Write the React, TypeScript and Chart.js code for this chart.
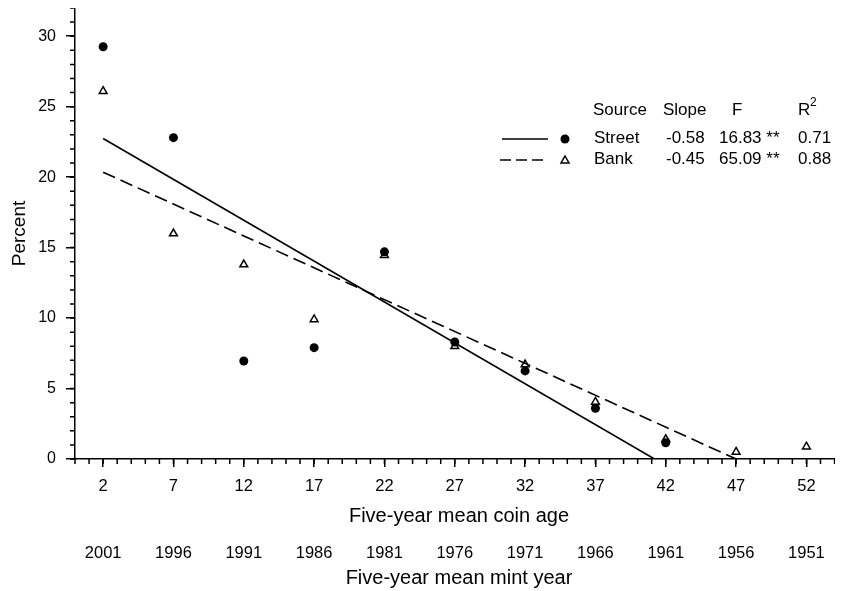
import React, { useEffect, useRef } from "react";
import { Chart, registerables } from "chart.js";

Chart.register(...registerables);

// ---- data ----
const ageTicks = [2, 7, 12, 17, 22, 27, 32, 37, 42, 47, 52];
const mintYears = ["2001", "1996", "1991", "1986", "1981", "1976", "1971", "1966", "1961", "1956", "1951"];
const percentTicks = [0, 5, 10, 15, 20, 25, 30];

const streetAge = [2, 7, 12, 17, 22, 27, 32, 37, 42];
const streetPct = [29.25, 22.8, 6.95, 7.9, 14.7, 8.3, 6.25, 3.6, 1.15];

const bankAge = [2, 7, 12, 17, 22, 27, 32, 37, 42, 47, 52];
const bankPct = [26.1, 16.0, 13.8, 9.9, 14.45, 8.0, 6.7, 4.05, 1.4, 0.5, 0.87];

const streetFitAge = [2, 41.2];
const streetFitPct = [22.74, 0];
const bankFitAge = [2, 47];
const bankFitPct = [20.35, 0];

const legendSources = ["Street", "Bank"];
const legendSlopes = ["-0.58", "-0.45"];
const legendF = ["16.83 **", "65.09 **"];
const legendR2 = ["0.71", "0.88"];

const X_MIN = 0;
const X_MAX = 54.6;
const Y_MIN = 0;
const Y_MAX = 32;

const FONT = "'Liberation Sans', Arial, Helvetica, sans-serif";

const toXY = (xs: number[], ys: number[]) => xs.map((x, i) => ({ x, y: ys[i] }));

const minorTicksPlugin = {
  id: "minorTicks",
  afterDraw(chart: any) {
    const { ctx, chartArea } = chart;
    const xs = chart.scales.x;
    const ys = chart.scales.y;
    ctx.save();
    ctx.strokeStyle = "#000";
    ctx.lineWidth = 1.5;
    ctx.beginPath();
    for (let v = Math.ceil(X_MIN); v <= X_MAX; v++) {
      const px = xs.getPixelForValue(v);
      ctx.moveTo(px, chartArea.bottom);
      ctx.lineTo(px, chartArea.bottom + 5);
    }
    for (let v = Y_MIN; v <= Y_MAX; v++) {
      const py = ys.getPixelForValue(v);
      ctx.moveTo(chartArea.left - 5, py);
      ctx.lineTo(chartArea.left, py);
    }
    ctx.stroke();
    ctx.restore();
  },
};

const legendPlugin = {
  id: "tableLegend",
  afterDraw(chart: any) {
    const { ctx } = chart;
    ctx.save();
    ctx.fillStyle = "#000";
    ctx.strokeStyle = "#000";
    ctx.font = `17px ${FONT}`;
    ctx.textBaseline = "middle";
    ctx.textAlign = "left";
    const hy = 102;
    ctx.fillText("Source", 585, hy);
    ctx.fillText("Slope", 655, hy);
    ctx.fillText("F", 724, hy);
    ctx.fillText("R", 790, hy);
    ctx.font = `12px ${FONT}`;
    ctx.fillText("2", 802, hy - 7);
    ctx.font = `17px ${FONT}`;
    const rows = [130, 151];
    rows.forEach((ry, i) => {
      ctx.fillText(legendSources[i], 586, ry);
      ctx.fillText(legendSlopes[i], 658, ry);
      ctx.fillText(legendF[i], 711, ry);
      ctx.fillText(legendR2[i], 790, ry);
    });
    ctx.lineWidth = 1.5;
    ctx.beginPath();
    ctx.moveTo(494, rows[0] + 1);
    ctx.lineTo(540, rows[0] + 1);
    ctx.stroke();
    ctx.setLineDash([11, 5]);
    ctx.beginPath();
    ctx.moveTo(492, rows[1] + 1);
    ctx.lineTo(538, rows[1] + 1);
    ctx.stroke();
    ctx.setLineDash([]);
    ctx.beginPath();
    ctx.arc(557, rows[0] + 1, 4.5, 0, Math.PI * 2);
    ctx.fill();
    ctx.beginPath();
    const tx = 557, ty = rows[1] + 1;
    ctx.moveTo(tx, ty - 4);
    ctx.lineTo(tx + 4, ty + 3);
    ctx.lineTo(tx - 4, ty + 3);
    ctx.closePath();
    ctx.stroke();
    ctx.restore();
  },
};

export default function App() {
  const ref = useRef<HTMLCanvasElement | null>(null);

  useEffect(() => {
    if (!ref.current) return;
    const chart = new Chart(ref.current, {
      type: "scatter",
      data: {
        datasets: [
          {
            type: "line",
            label: "Street fit",
            data: toXY(streetFitAge, streetFitPct),
            borderColor: "#000",
            borderWidth: 1.6,
            pointRadius: 0,
            fill: false,
            tension: 0,
          } as any,
          {
            type: "line",
            label: "Bank fit",
            data: toXY(bankFitAge, bankFitPct),
            borderColor: "#000",
            borderWidth: 1.6,
            borderDash: [13, 6],
            pointRadius: 0,
            fill: false,
            tension: 0,
          } as any,
          {
            label: "Street",
            data: toXY(streetAge, streetPct),
            pointStyle: "circle",
            pointRadius: 4.5,
            backgroundColor: "#000",
            borderColor: "#000",
            borderWidth: 0,
          },
          {
            label: "Bank",
            data: toXY(bankAge, bankPct),
            pointStyle: "triangle",
            pointRadius: 4.5,
            backgroundColor: "rgba(0,0,0,0)",
            borderColor: "#000",
            borderWidth: 1.5,
          },
        ],
      },
      options: {
        animation: false,
        responsive: false,
        maintainAspectRatio: false,
        layout: { padding: 0, autoPadding: false },
        plugins: { legend: { display: false }, tooltip: { enabled: false } },
        scales: {
          x: {
            type: "linear",
            position: "bottom",
            weight: 0,
            min: X_MIN,
            max: X_MAX,
            afterBuildTicks: (s: any) => {
              s.ticks = ageTicks.map((v) => ({ value: v }));
            },
            afterFit: (s: any) => {
              s.height = 71;
              s.paddingLeft = 0;
              s.paddingRight = 0;
            },
            grid: { drawOnChartArea: false, color: "#000", lineWidth: 1.5, tickLength: 8 },
            border: { display: true, color: "#000", width: 1.5 },
            ticks: {
              color: "#000",
              font: { family: FONT, size: 16.5 },
              padding: 10,
              maxRotation: 0,
              autoSkip: false,
              callback: (v: any) => String(v),
            },
            title: {
              display: true,
              text: "Five-year mean coin age",
              color: "#000",
              font: { family: FONT, size: 20 },
              padding: { top: 0, bottom: 2 },
            },
          },
          x2: {
            type: "linear",
            position: "bottom",
            weight: 1,
            min: X_MIN,
            max: X_MAX,
            afterBuildTicks: (s: any) => {
              s.ticks = ageTicks.map((v) => ({ value: v }));
            },
            afterFit: (s: any) => {
              s.height = 61;
              s.paddingLeft = 0;
              s.paddingRight = 0;
            },
            grid: { display: false, drawTicks: false, tickLength: 0 },
            border: { display: false },
            ticks: {
              color: "#000",
              font: { family: FONT, size: 16.5 },
              padding: 14,
              maxRotation: 0,
              autoSkip: false,
              callback: (_v: any, i: number) => mintYears[i],
            },
            title: {
              display: true,
              text: "Five-year mean mint year",
              color: "#000",
              font: { family: FONT, size: 20 },
              padding: { top: 0, bottom: 1 },
            },
          },
          y: {
            type: "linear",
            min: Y_MIN,
            max: Y_MAX,
            afterBuildTicks: (s: any) => {
              s.ticks = percentTicks.map((v) => ({ value: v }));
            },
            afterFit: (s: any) => {
              s.width = 67;
              s.paddingTop = 0;
              s.paddingBottom = 0;
            },
            grid: { drawOnChartArea: false, color: "#000", lineWidth: 1.5, tickLength: 9 },
            border: { display: true, color: "#000", width: 1.5 },
            ticks: {
              color: "#000",
              font: { family: FONT, size: 16 },
              padding: 10,
              callback: (v: any) => String(v),
            },
            title: {
              display: true,
              text: "Percent",
              color: "#000",
              font: { family: FONT, size: 19 },
              padding: { top: 0, bottom: 0 },
            },
          },
        },
      } as any,
      plugins: [minorTicksPlugin, legendPlugin],
    });
    return () => chart.destroy();
  }, []);

  return (
    <div style={{ width: 835, height: 583 }}>
      <canvas ref={ref} width={835} height={583} style={{ display: "block" }} />
    </div>
  );
}
